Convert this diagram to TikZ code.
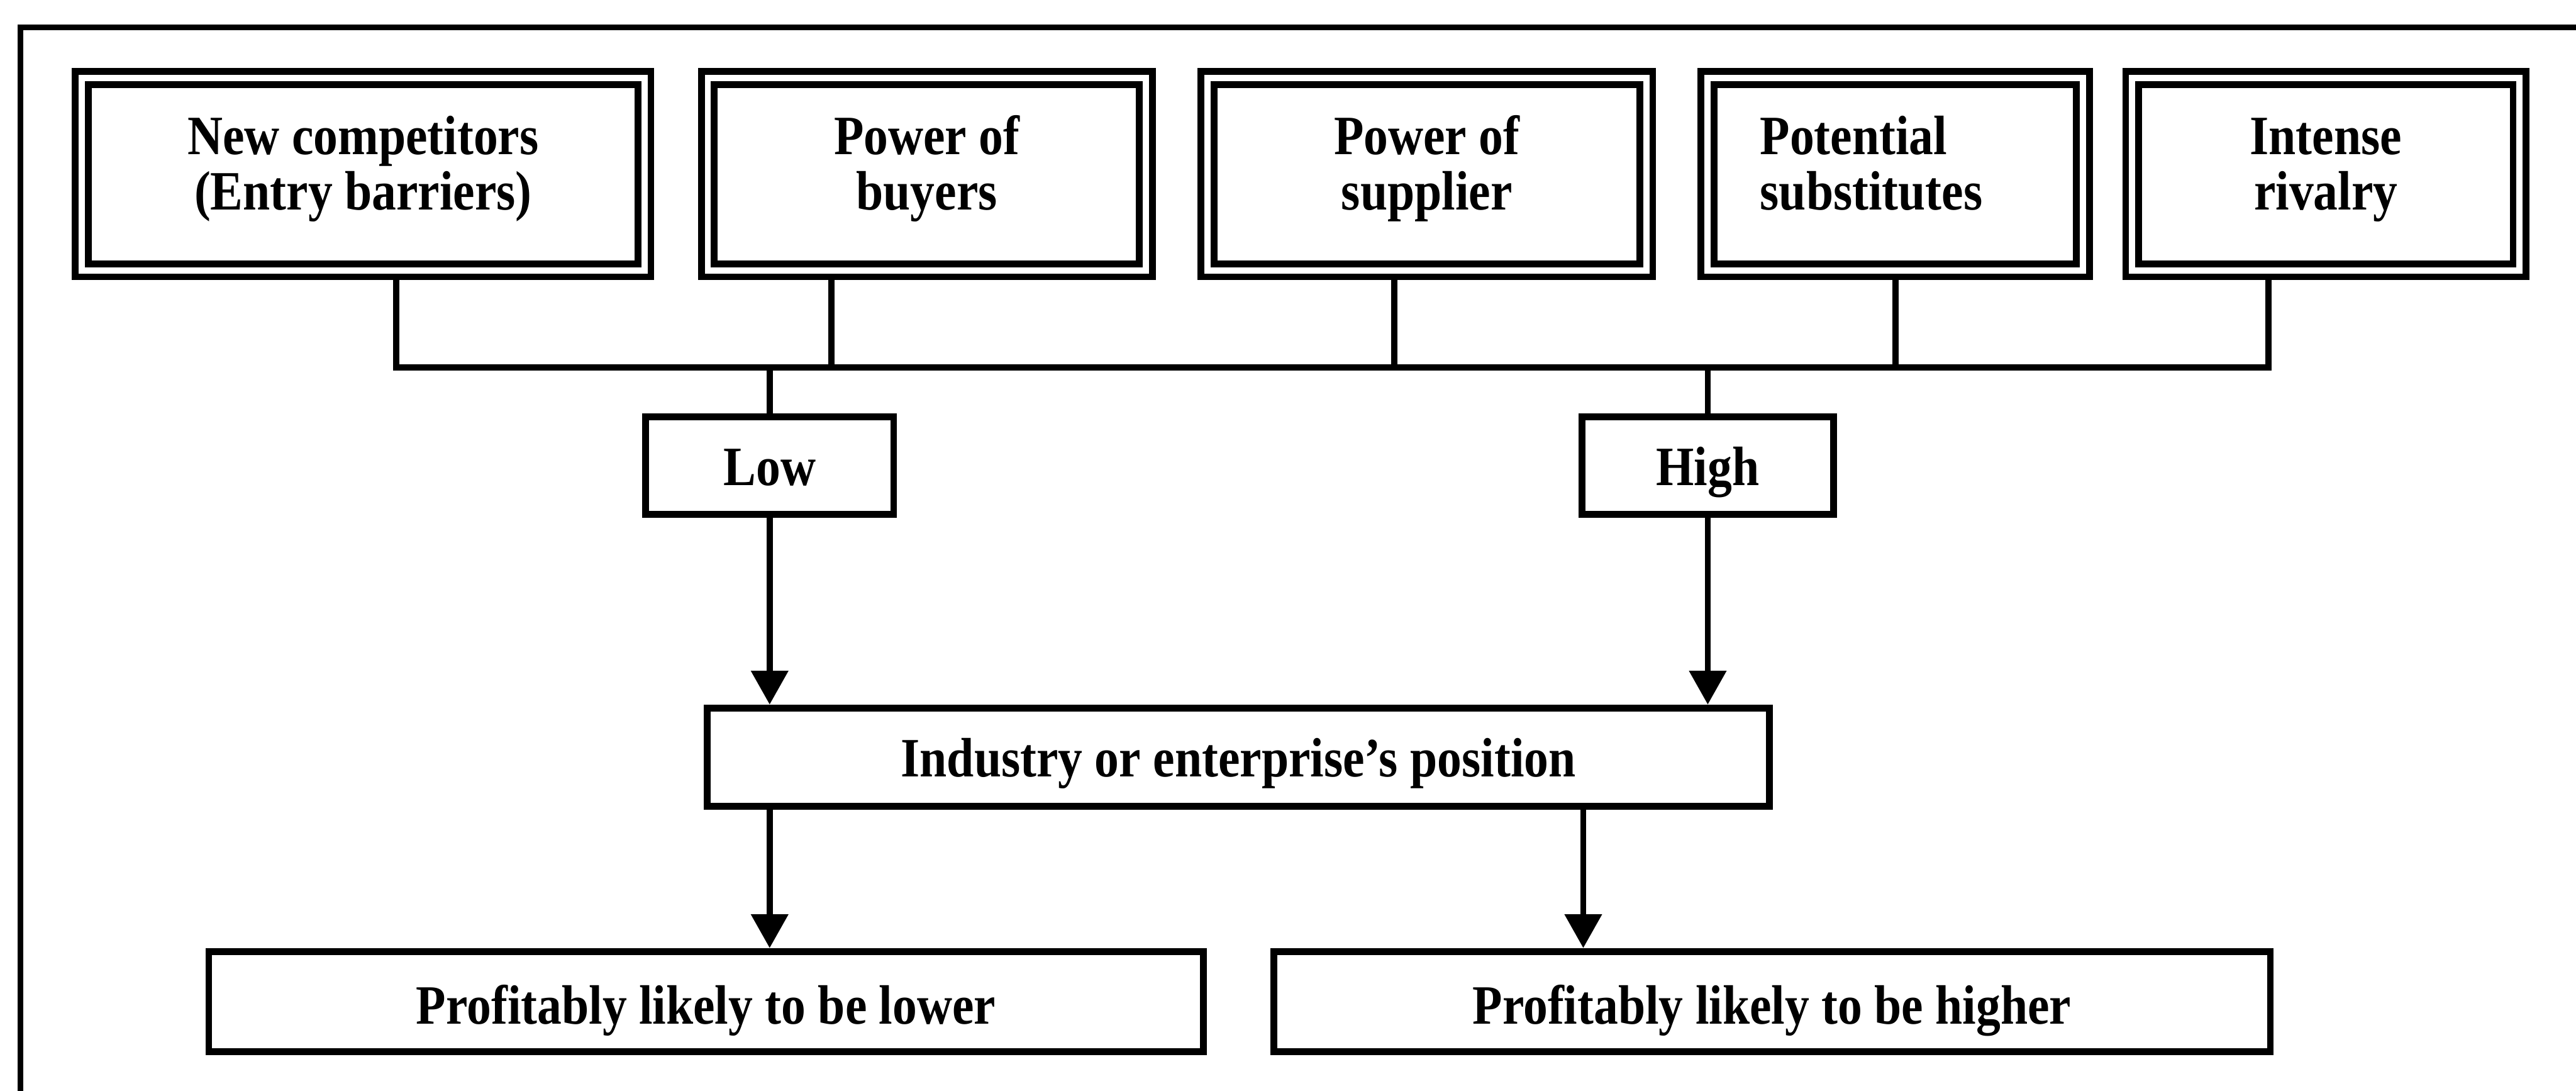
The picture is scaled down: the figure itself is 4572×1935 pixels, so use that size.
\documentclass[tikz,border=0pt]{standalone}
\usepackage{fontspec}
\setmainfont{Liberation Serif}[FakeStretch=0.88]
\usetikzlibrary{arrows.meta}

\begin{document}
\begin{tikzpicture}[x=0.01cm, y=-0.01cm,
  lbl/.style={font=\fontsize{28pt}{27.8pt}\selectfont\bfseries,
    text height=0.7cm, text depth=0pt, inner sep=0pt},
  forcebox/.style={lbl, draw, line width=0.12cm, double, double distance=0.11cm,
    align=flush center, text width=6cm, text height=0pt, text depth=0.7cm,
    minimum height=3.41cm},
  plainbox/.style={lbl, draw, line width=0.12cm},
  conn/.style={line width=0.11cm},
  arr/.style={conn, -{Triangle[width=0.64cm,length=0.6cm]}},
  frameline/.style={line width=0.10cm}]

\useasboundingbox (0,0) rectangle (4572,1935);

% outer frame (open to the right and bottom)
\draw[frameline] (4600,49) -- (36,49) -- (36,1960);

% the five forces
\node[forcebox, minimum width=9.98cm, text width=8cm] (b1) at (644.5,309) {New competitors\\(Entry barriers)};
\node[forcebox, minimum width=7.77cm] (b2) at (1645,309) {Power of\\buyers};
\node[forcebox, minimum width=7.78cm] (b3) at (2532.5,309) {Power of\\supplier};
\node[forcebox, minimum width=6.66cm, align=flush left, text width=4.79cm] (b4) at (3363.5,309) {Potential\\substitutes};
\node[forcebox, minimum width=6.87cm] (b5) at (4128,309) {Intense\\rivalry};

% intensity levels
\node[plainbox, minimum width=4.40cm, minimum height=1.73cm] (low) at (1366,826) {Low};
\node[plainbox, minimum width=4.46cm, minimum height=1.73cm] (high) at (3031,826) {High};

% position and outcomes
\node[plainbox, minimum width=18.84cm, minimum height=1.74cm] (ind) at (2198,1343) {Industry or enterprise’s position};
\node[plainbox, minimum width=17.64cm, minimum height=1.78cm, text height=0.8cm] (lower) at (1253,1777) {Profitably likely to be lower};
\node[plainbox, minimum width=17.68cm, minimum height=1.78cm, text height=0.8cm] (higher) at (3145,1777) {Profitably likely to be higher};

% collecting bus
\coordinate (j1) at (703,652);
\coordinate (j2) at (1476,652);
\coordinate (j3) at (2475,652);
\coordinate (j4) at (3364,652);
\coordinate (j5) at (4026,652);
\coordinate (jl) at (1366,652);
\coordinate (jh) at (3031,652);
\coordinate (rx) at (2810,1343);

\draw[conn] (b1.south -| j1) -- (j1) -- (j5) -- (b5.south -| j5);
\draw[conn] (b2.south -| j2) -- (j2);
\draw[conn] (b3.south -| j3) -- (j3);
\draw[conn] (b4.south -| j4) -- (j4);
\draw[conn] (jl) -- (low);
\draw[conn] (jh) -- (high);

% arrows
\draw[arr] (low) -- (low |- ind.north);
\draw[arr] (high) -- (high |- ind.north);
\draw[arr] (ind.south -| low) -- (low |- lower.north);
\draw[arr] (ind.south -| rx) -- (rx |- higher.north);
\end{tikzpicture}
\end{document}
